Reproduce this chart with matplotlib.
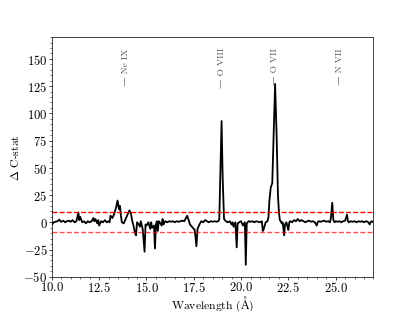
import matplotlib
matplotlib.use("Agg")
import matplotlib.pyplot as plt
import numpy as np

plt.rcParams.update({
    "font.family": "serif",
    "font.serif": ["cmr10", "DejaVu Serif"],
    "mathtext.fontset": "cm",
    "axes.formatter.use_mathtext": True,
    "font.size": 14,
})

wave = [10.00, 10.05, 10.10, 10.20, 10.30, 10.40, 10.45, 10.50, 10.60, 10.70, 10.80, 10.90,
        11.00, 11.10, 11.20, 11.30, 11.40, 11.45, 11.50, 11.60, 11.70, 11.80, 11.90,
        12.00, 12.10, 12.20, 12.25, 12.30, 12.40, 12.45, 12.50, 12.60, 12.70, 12.80, 12.90,
        13.00, 13.05, 13.10, 13.20, 13.30, 13.40, 13.47, 13.55, 13.60, 13.65, 13.70, 13.80, 13.90,
        14.00, 14.10, 14.18, 14.25, 14.30, 14.40, 14.45, 14.50, 14.60, 14.65, 14.70, 14.80, 14.90, 14.95,
        15.00, 15.10, 15.20, 15.25, 15.30, 15.40, 15.45, 15.50, 15.55, 15.60, 15.65, 15.70, 15.80, 15.85, 15.90, 15.95,
        16.00, 16.10, 16.20, 16.30, 16.40, 16.50, 16.60, 16.70, 16.80, 16.90,
        17.00, 17.15, 17.25, 17.30, 17.40, 17.50, 17.55, 17.64, 17.70, 17.80, 17.90,
        18.00, 18.10, 18.20, 18.30, 18.40, 18.50, 18.60, 18.70, 18.80, 18.85, 18.90, 18.97,
        19.03, 19.10, 19.20, 19.30, 19.40, 19.50, 19.55, 19.60, 19.70, 19.77, 19.82, 19.90,
        20.00, 20.10, 20.20, 20.25, 20.30, 20.40, 20.50, 20.60, 20.70, 20.80, 20.90,
        21.00, 21.10, 21.15, 21.20, 21.30, 21.40, 21.45, 21.50, 21.57, 21.65, 21.72, 21.80, 21.88, 21.95,
        22.00, 22.05, 22.10, 22.15, 22.20, 22.28, 22.32, 22.40, 22.45, 22.50, 22.55, 22.60, 22.70, 22.80, 22.90,
        23.00, 23.10, 23.20, 23.30, 23.40, 23.50, 23.60, 23.70, 23.80, 23.90,
        24.00, 24.05, 24.10, 24.20, 24.30, 24.40, 24.50, 24.60, 24.70, 24.75, 24.82, 24.88, 24.95,
        25.00, 25.10, 25.20, 25.30, 25.40, 25.50, 25.60, 25.65, 25.70, 25.80, 25.90,
        26.00, 26.10, 26.20, 26.30, 26.40, 26.50, 26.60, 26.70, 26.80, 26.85, 26.90, 27.00]

dcstat = [-2, -1, 0, 0.5, 1, 2.5, 1, 0.5, 1.5, 0, 1, 1.5,
          0.5, 2, 0, 1, 9, 2, 5, 0, 1, -1, 1,
          0, 1, 4, 1, 3, -1, 2, -3, 1, 0, 2, 0,
          1, 0, 6, 4, 8, 14, 20, 12, 15, 6, 0, -1, 3,
          7, 11, 8, 1, -2, -10, -12, 0, -2, -4, 1, -6, -27, -2,
          -3, 0, -6, 0, -5, -3, -24, -2, 1, -8, 1, 0, -3, 3, -2, 0,
          1, 0, 1, 0.5, 1, 0, 1, 0.5, 1, 1.5,
          1, 6, 1, -2, -4, -6, -7, -22, -6, -2, 1,
          0, 2, 1, 0, 1, 0.5, 1, 0.5, 1, 3, 40, 93,
          40, 3, 1, 0, 1, -2, 0, -4, 0, -23, -1, 0,
          1, -3, 0, -39, -1, 1, 0.5, 1, 0, 1, 0.5,
          0, 1, -8, -6, 0, 1, 5, 20, 32, 36, 80, 127, 80, 25,
          10, 2, 1, -1, 0, -12, -2, 0, -4, -7, 0, 1, 0, 2, 1,
          3, 1, 2, 1, 0, 1, 1.5, 0.5, 1, 0,
          -3, 0, 1, 0.5, 1, 1.5, 0.5, 1, 0, 4, 18, 2, 0,
          1, 0.5, 1, 0, 1, 1.5, 7, 1, 0, 1, 0.5,
          1, 0, 1, 0.5, 1, 0, 1, 0.5, -2, 0, 1, 0]

threshold = 9
line_names = ["— Ne IX", "— O VIII", "— O VII", "— N VII"]
line_waves = [13.9, 19.0, 21.8, 25.2]

fig, ax = plt.subplots(figsize=(6.4, 4.8), dpi=64.84)
ax.plot(wave, dcstat, color="black", lw=2)
ax.axhline(threshold, color="red", ls="--", lw=1.5)
ax.axhline(-threshold, color="red", ls="--", lw=1.5, alpha=0.7)
for name, w in zip(line_names, line_waves):
    ax.text(w, 160, name, rotation=90, ha="center", va="top", fontsize=10.5,
            color="0.35", family=["cmr10", "DejaVu Serif"])
ax.set_xlim(10, 27)
ax.set_ylim(-50, 170)
ax.minorticks_on()
ax.tick_params(which="major", length=3, pad=2)
ax.tick_params(which="minor", length=1.8)
ax.set_xlabel(r"Wavelength ($\mathrm{\AA}$)", fontsize=13)
ax.xaxis.set_label_coords(0.5, -0.072)
ax.set_ylabel(r"$\Delta$ C-stat", fontsize=13, labelpad=3)
fig.savefig("out.png", dpi=64.84)
